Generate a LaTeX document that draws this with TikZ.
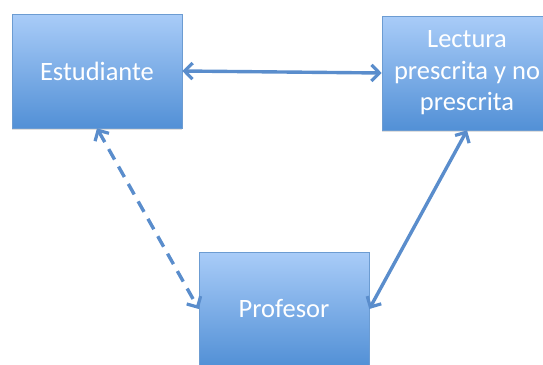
\documentclass[tikz,border=0pt]{standalone}
\usepackage{fontspec}
\setmainfont{Carlito}
\usetikzlibrary{arrows.meta,shadows}
\definecolor{boxtop}{HTML}{A9CCF8}
\definecolor{boxbot}{HTML}{5290D6}
\definecolor{boxedge}{HTML}{6C9CD2}
\definecolor{linkblue}{HTML}{5A8DCC}
\tikzset{
  box/.style={rectangle, draw=boxedge, line width=0.6pt,
    top color=boxtop, bottom color=boxbot,
    minimum width=170pt, minimum height=114pt, inner sep=0pt,
    text=white, align=center, font=\fontsize{26.5}{31.5}\selectfont,
    drop shadow={opacity=0.25, shadow xshift=0pt, shadow yshift=-2pt}},
  link/.style={draw=linkblue, line width=3.4pt,
    {Straight Barb[length=8pt,width=16pt,line width=3.2pt]}-{Straight Barb[length=8pt,width=16pt,line width=3.2pt]}},
  dashlink/.style={link, dash pattern=on 12pt off 8pt}
}
\begin{document}
\begin{tikzpicture}[x=1pt,y=-1pt]
  \useasboundingbox (0,0) rectangle (543,364);
  \clip (0,0) rectangle (543,364);
  \node[box] (est) at (97,71) {Estudiante};
  \node[box] (lec) at (467,73) {Lectura\\prescrita y no\\prescrita};
  \node[box] (prof) at (284,309) {Profesor};
  \draw[link] (est.east) -- (lec.west);
  \draw[dashlink] (est.south) -- (prof.west);
  \draw[link] (lec.south) -- (prof.east);
\end{tikzpicture}
\end{document}
